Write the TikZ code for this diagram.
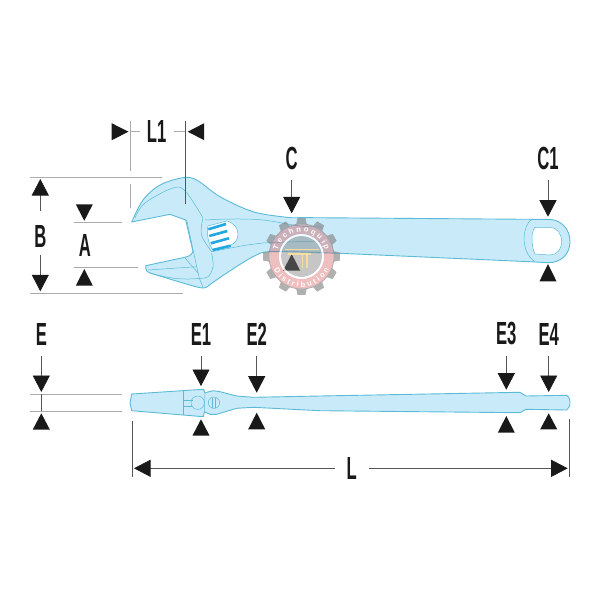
\documentclass[tikz,border=0pt]{standalone}
\usepackage{fontspec}
\usetikzlibrary{arrows.meta,calc,decorations.text}
\newfontfamily\dimfont[FakeStretch=0.52]{Liberation Sans}
\newfontfamily\markfont{Liberation Sans}
\definecolor{toolfill}{HTML}{C9EAF9}
\definecolor{toolline}{HTML}{5BBBD6}
\definecolor{toolscrew}{HTML}{1FA8E2}
\definecolor{dimgrey}{HTML}{555555}
\definecolor{extgrey}{HTML}{ABABAB}
\tikzstyle{dimlabel} = [inner sep=0pt,minimum width=34pt,minimum height=43pt,text=black!90,font=\dimfont\bfseries\fontsize{32}{32}\selectfont]
\tikzstyle{dimarrow} = [draw=dimgrey,line width=0.8pt,arrows={-Triangle[length=16.5pt,width=17pt,black!90]}]
\tikzstyle{dimtri} = [fill=black!90]
\tikzstyle{dimline} = [draw=dimgrey,line width=0.8pt]
\tikzstyle{extline} = [draw=extgrey,line width=0.9pt]
\tikzstyle{outline} = [draw=toolline,fill=toolfill,line width=0.9pt,line join=round]
\tikzstyle{ridge} = [draw=toolline,line width=0.5pt]
\tikzstyle{screw} = [draw=toolscrew,line width=2.6pt]
\begin{document}
\begin{tikzpicture}[x=1pt,y=-1pt]
    \useasboundingbox (0,0) rectangle (600,600);

    % side view of the wrench
    \path[outline] plot[smooth,tension=0.55] coordinates {(131.7,222) (143,200) (160,185) (183,177.7) (196.7,180) (220,196.7) (253,211.7) (286.7,217.3) (300,217.6)}
        -- (530,219.3) -- (548.3,219.3)
        .. controls (561,219.3) and (570,229) .. (570,241.7)
        .. controls (570,254) and (561,262.7) .. (548.3,262.7)
        -- (530,261.7) -- (340,253.3) -- (320,252.7)
        -- plot[smooth,tension=0.55] coordinates {(320,252.7) (270,251.7) (253,256.7) (226.7,273) (212,283) (203,288) (183,283) (150,273)}
        .. controls (146,271) .. (145.7,265.7)
        -- (183,257.7) .. controls (190,256) .. (193,251.7)
        -- (185.7,220) -- (170,214.3) -- cycle;
    \draw[ridge] plot[smooth,tension=0.6] coordinates {(135,218) (145,203) (173,188) (185.7,191.7) (203,218)};
    \draw[ridge] plot[smooth,tension=0.6] coordinates {(205,220) (232,219) (263,220) (300,226) (322,227)};
    \draw[ridge] plot[smooth,tension=0.6] coordinates {(211.7,251.7) (246.7,245) (263,243) (296.7,241.7) (320,241)};
    \draw[ridge] plot[smooth,tension=0.6] coordinates {(203,218) (201.5,235) (211.7,251.7)};
    \draw[ridge] plot[smooth,tension=0.6] coordinates {(211.7,253) (213,266.7) (208,276.7) (199.3,278.3)};
    \draw[ridge] (186.7,220) -- (193.5,252) -- (199.3,278.3) -- (203,287.5);
    \draw[ridge] (148,270) -- (196.7,266.7);
    \draw[ridge] (185,258) -- (198,273);
    \draw[ridge] (150,273) .. controls (170,279) and (185,280) .. (199.3,278.3);
    \draw[ridge,fill=white] (226.7,221) .. controls (234,223) and (238,228) .. (238,234)
        .. controls (238,240) and (235,243) .. (231,245) -- (213,250)
        .. controls (209,246) and (206,233) .. (208,226) -- cycle;
    \draw[screw] (208.3,229.3) -- (226,224);
    \draw[screw] (209.3,236) -- (227.3,231);
    \draw[screw] (210.7,243.3) -- (229,238.3);
    \draw[screw] (212.7,250) -- (230.7,245.7);
    \draw[ridge] (531.7,219.3) .. controls (522,226) and (520,252) .. (535,261.7);
    \draw[ridge,fill=white] (535,227.3) -- (550,227.3)
        .. controls (557,227.3) and (561.7,234) .. (561.7,241.7)
        .. controls (561.7,249) and (557,255) .. (550,255)
        -- (535,254) .. controls (532,249) and (530,233) .. (535,227.3);

    % edge view of the wrench
    \path[outline] (131.7,394) -- (203.3,389.3) -- (205,392.7)
        -- (213.3,390.7) -- (220,391.7) -- (236.7,396) -- (253.3,397.3) -- (320,396)
        -- (520,392.3) -- (526,396) -- (566.7,395.3)
        .. controls (569,397) .. (570,401.7) .. controls (570,406) .. (566.7,410)
        -- (526,409.3) -- (520,412.7) -- (320,410.7) -- (253.3,407.3) -- (236.7,408.3)
        -- (216.7,414.3) -- (210,414.3) -- (204.3,411.7) -- (203.3,416.7) -- (131.7,410.7)
        .. controls (130,407) .. (130,403.3) .. controls (130,399) .. (131.7,394) -- cycle;
    \draw[ridge] (204,389.5) -- (205,392.7) -- (204.3,411.7);
    \draw[ridge] (183.3,391) -- (183.3,414.6);
    \draw[ridge] (183.3,400) -- (193,400);
    \draw[ridge] (183.3,406) -- (191.7,406);
    \draw[ridge] (197.7,402.7) circle[radius=6.7];
    \draw[ridge] (214,402.7) circle[radius=5.7];
    \draw[ridge] (212.7,397.5) -- (212.7,408);
    \draw[ridge] (215.3,397.5) -- (215.3,408);

    % labels
    \node (lblLone)[dimlabel] at (156.7,131.7) {L1};
    \node (lblC)[dimlabel]    at (291.7,158) {C};
    \node (lblCone)[dimlabel] at (548,158) {C1};
    \node (lblB)[dimlabel]    at (40.3,236) {B};
    \node (lblA)[dimlabel]    at (85,245) {A};
    \node (lblE)[dimlabel]    at (41.3,334) {E};
    \node (lblEone)[dimlabel] at (201,334) {E1};
    \node (lblEtwo)[dimlabel] at (256.7,334) {E2};
    \node (lblEthree)[dimlabel] at (506.3,334) {E3};
    \node (lblEfour)[dimlabel]  at (548.7,334) {E4};
    \node (lblL)[dimlabel]    at (351.7,468.3) {L};

    % arrows from a label to the tool
    \foreach \name/\from/\x/\y in {c/lblC/291.7/213.3,cone/lblCone/548/216.7,e/lblE/41.3/392,eone/lblEone/201/386,etwo/lblEtwo/256.7/392.7,ethree/lblEthree/506.3/389.7,efour/lblEfour/548.7/392}
        {
        \coordinate (\name tip) at (\x,\y);
        \draw[dimarrow] (\from) -- (\name tip);
        }

    % triangles standing alone
    \foreach \x/\ya/\yb in {291.7/270.7/254,548/281.3/264,84.3/285.7/269,84.3/204.3/220.8,41.3/429.5/413.3,201/435.5/419.3,256.7/429.3/412.7,506.3/432.7/416,548.7/429.3/413.3}
        \fill[dimtri] (\x-8.5,\ya) -- (\x,\yb) -- (\x+8.5,\ya) -- cycle;
    \fill[dimtri] (111.7,123.2) -- (128.5,131.7) -- (111.7,140.2) -- cycle;
    \fill[dimtri] (204.2,123.2) -- (187.7,131.7) -- (204.2,140.2) -- cycle;

    % B
    \coordinate (btoptip) at (40.3,179);
    \coordinate (bbottip) at (40.3,291.3);
    \draw[dimarrow,shorten <=3pt] (lblB) -- (btoptip);
    \draw[dimarrow,shorten <=-3pt] (lblB) -- (bbottip);

    % L1
    \coordinate (lonetickl) at (130,131.7);
    \coordinate (lonetickr) at (185.3,131.7);
    \draw[extline] (lblLone) -- (lonetickl);
    \draw[extline] (lblLone) -- (lonetickr);

    % L
    \coordinate (ltipl) at (134,468.3);
    \coordinate (ltipr) at (567.7,468.3);
    \draw[dimarrow] (lblL) -- (ltipl);
    \draw[dimarrow] (lblL) -- (ltipr);

    % extension lines
    \foreach \ax/\ay/\bx/\by in {130/121/130/170.7,130/184/130/207.7,30/177.7/161.7/177.7,74/222.7/122/222.7,74/267/138/267,30/293/183/293,30/394.3/122/394.3,30/411/122/411}
        \draw[extline] (\ax,\ay) -- (\bx,\by);
    \foreach \ax/\ay/\bx/\by in {185.3/121/185.3/204,41.3/394.3/41.3/411,132.3/421.3/132.3/476.7,569.3/419.3/569.3/476.7}
        \draw[dimline] (\ax,\ay) -- (\bx,\by);

    % watermark
    \coordinate (gearc) at (301.5,256.5);
    \begin{scope}[shift={(gearc)}]
        \fill[black!50,opacity=0.62,even odd rule] (-9:33)
            \foreach \a in {0,30,...,330} {-- (\a-9:33) -- (\a-6:38.5) -- (\a+6:38.5) -- (\a+9:33)} -- cycle
            (0,0) circle[radius=32];
        \fill[red!75!black!75,opacity=0.34,even odd rule] (0,0) circle[radius=32] (0,0) circle[radius=22.5];
        \fill[black!50,opacity=0.45] (0,0) circle[radius=20.5];
        \draw[white,line width=1.8pt,opacity=0.8] (0,0) circle[radius=21.5];
        \draw[yellow!35!orange!35,line width=1.5pt,opacity=0.9] (-17,-7) -- (17,-7);
        \draw[yellow!35!orange!35,line width=1.5pt,opacity=0.9] (-14,-2.5) -- (9,-2.5);
        \draw[yellow!35!orange!35,line width=1.5pt,opacity=0.9] (1,-2.5) -- (1,11);
        \draw[yellow!35!orange!35,line width=1.5pt,opacity=0.9] (5.5,-2.5) -- (5.5,11);
        \path[decorate,decoration={text along path,text align={fit to path},text={|\markfont\bfseries\fontsize{7.5}{7.5}\selectfont\color{white}|Technoquip}}]
            (-165:24.5) arc[start angle=-165,end angle=-15,radius=24.5];
        \path[decorate,decoration={text along path,text align={fit to path},text={|\markfont\bfseries\fontsize{7.5}{7.5}\selectfont\color{white}|Distribution}}]
            (-205:30.5) arc[start angle=-205,end angle=-335,radius=30.5];
    \end{scope}
\end{tikzpicture}
\end{document}
